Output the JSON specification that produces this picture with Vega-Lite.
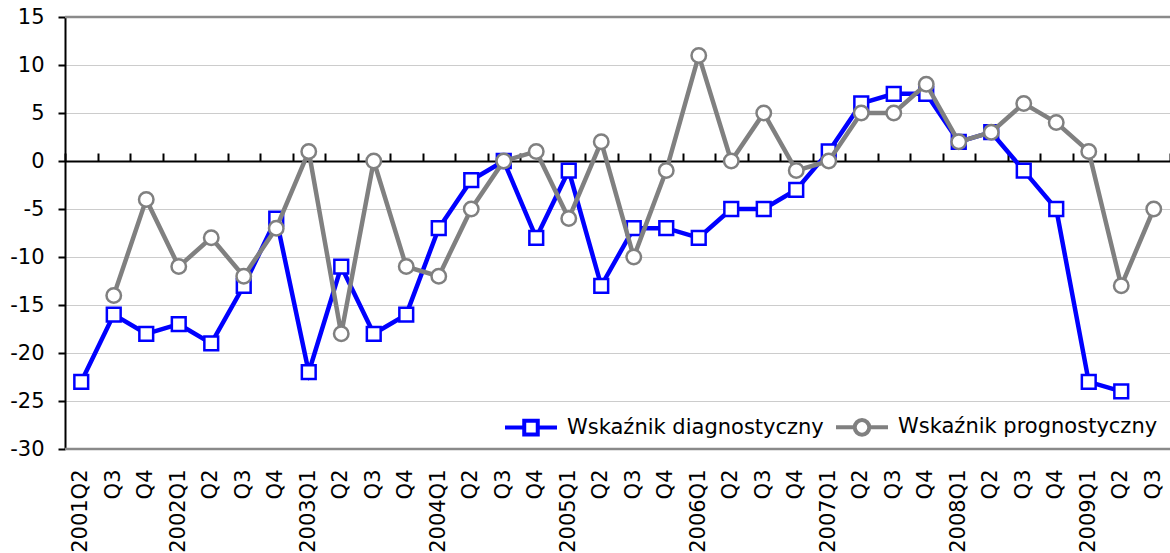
{
  "$schema": "https://vega.github.io/schema/vega-lite/v6.json",
  "width": 1105,
  "height": 432,
  "autosize": {"type": "none"},
  "padding": {"left": 65, "top": 17, "right": 0, "bottom": 104},
  "background": "white",
  "config": {
    "view": {"stroke": null},
    "font": "DejaVu Sans"
  },
  "data": {
    "values": [
      {"q": "2001Q2", "Wskaźnik diagnostyczny": -23, "Wskaźnik prognostyczny": null},
      {"q": "2001Q3", "Wskaźnik diagnostyczny": -16, "Wskaźnik prognostyczny": -14},
      {"q": "2001Q4", "Wskaźnik diagnostyczny": -18, "Wskaźnik prognostyczny": -4},
      {"q": "2002Q1", "Wskaźnik diagnostyczny": -17, "Wskaźnik prognostyczny": -11},
      {"q": "2002Q2", "Wskaźnik diagnostyczny": -19, "Wskaźnik prognostyczny": -8},
      {"q": "2002Q3", "Wskaźnik diagnostyczny": -13, "Wskaźnik prognostyczny": -12},
      {"q": "2002Q4", "Wskaźnik diagnostyczny": -6, "Wskaźnik prognostyczny": -7},
      {"q": "2003Q1", "Wskaźnik diagnostyczny": -22, "Wskaźnik prognostyczny": 1},
      {"q": "2003Q2", "Wskaźnik diagnostyczny": -11, "Wskaźnik prognostyczny": -18},
      {"q": "2003Q3", "Wskaźnik diagnostyczny": -18, "Wskaźnik prognostyczny": 0},
      {"q": "2003Q4", "Wskaźnik diagnostyczny": -16, "Wskaźnik prognostyczny": -11},
      {"q": "2004Q1", "Wskaźnik diagnostyczny": -7, "Wskaźnik prognostyczny": -12},
      {"q": "2004Q2", "Wskaźnik diagnostyczny": -2, "Wskaźnik prognostyczny": -5},
      {"q": "2004Q3", "Wskaźnik diagnostyczny": 0, "Wskaźnik prognostyczny": 0},
      {"q": "2004Q4", "Wskaźnik diagnostyczny": -8, "Wskaźnik prognostyczny": 1},
      {"q": "2005Q1", "Wskaźnik diagnostyczny": -1, "Wskaźnik prognostyczny": -6},
      {"q": "2005Q2", "Wskaźnik diagnostyczny": -13, "Wskaźnik prognostyczny": 2},
      {"q": "2005Q3", "Wskaźnik diagnostyczny": -7, "Wskaźnik prognostyczny": -10},
      {"q": "2005Q4", "Wskaźnik diagnostyczny": -7, "Wskaźnik prognostyczny": -1},
      {"q": "2006Q1", "Wskaźnik diagnostyczny": -8, "Wskaźnik prognostyczny": 11},
      {"q": "2006Q2", "Wskaźnik diagnostyczny": -5, "Wskaźnik prognostyczny": 0},
      {"q": "2006Q3", "Wskaźnik diagnostyczny": -5, "Wskaźnik prognostyczny": 5},
      {"q": "2006Q4", "Wskaźnik diagnostyczny": -3, "Wskaźnik prognostyczny": -1},
      {"q": "2007Q1", "Wskaźnik diagnostyczny": 1, "Wskaźnik prognostyczny": 0},
      {"q": "2007Q2", "Wskaźnik diagnostyczny": 6, "Wskaźnik prognostyczny": 5},
      {"q": "2007Q3", "Wskaźnik diagnostyczny": 7, "Wskaźnik prognostyczny": 5},
      {"q": "2007Q4", "Wskaźnik diagnostyczny": 7, "Wskaźnik prognostyczny": 8},
      {"q": "2008Q1", "Wskaźnik diagnostyczny": 2, "Wskaźnik prognostyczny": 2},
      {"q": "2008Q2", "Wskaźnik diagnostyczny": 3, "Wskaźnik prognostyczny": 3},
      {"q": "2008Q3", "Wskaźnik diagnostyczny": -1, "Wskaźnik prognostyczny": 6},
      {"q": "2008Q4", "Wskaźnik diagnostyczny": -5, "Wskaźnik prognostyczny": 4},
      {"q": "2009Q1", "Wskaźnik diagnostyczny": -23, "Wskaźnik prognostyczny": 1},
      {"q": "2009Q2", "Wskaźnik diagnostyczny": -24, "Wskaźnik prognostyczny": -13},
      {"q": "2009Q3", "Wskaźnik diagnostyczny": null, "Wskaźnik prognostyczny": -5}
    ]
  },
  "transform": [
    {"fold": ["Wskaźnik diagnostyczny", "Wskaźnik prognostyczny"], "as": ["s", "v"]},
    {"filter": "isValid(datum.v)"}
  ],
  "layer": [
    {
      "data": {"values": [{}]},
      "transform": [],
      "mark": {"type": "rule", "color": "#8a8a8a", "strokeWidth": 2.5},
      "encoding": {"y": {"datum": 15, "type": "quantitative"}}
    },
    {
      "data": {"values": [{}]},
      "transform": [],
      "mark": {"type": "rule", "color": "#8a8a8a", "strokeWidth": 2.5},
      "encoding": {"y": {"datum": -30, "type": "quantitative"}}
    },
    {
      "transform": [{"filter": "datum.s === 'Wskaźnik diagnostyczny'"}],
      "mark": {"type": "line", "strokeWidth": 4.5},
      "encoding": {
        "x": {
          "field": "q", "type": "ordinal", "sort": null,
          "scale": {"type": "band", "paddingInner": 0, "paddingOuter": 0},
          "axis": {
            "orient": "bottom", "title": null, "labelAngle": -90, "domain": false, "ticks": false,
            "grid": false, "labelFontSize": 21, "labelColor": "black", "labelPadding": 20,
            "labelFont": "DejaVu Sans",
            "labelExpr": "(indexof(datum.value, 'Q1') > 0 || datum.value === '2001Q2') ? datum.value : substring(datum.value, 4)"
          }
        },
        "y": {
          "field": "v", "type": "quantitative",
          "scale": {"domain": [-30, 15], "nice": false, "zero": false},
          "axis": {
            "title": null, "values": [-30, -25, -20, -15, -10, -5, 0, 5, 10, 15],
            "labelExpr": "'' + datum.value",
            "labelFontSize": 21, "labelColor": "black", "labelFont": "DejaVu Sans", "labelPadding": 14,
            "domainColor": "black", "domainWidth": 2, "tickColor": "black", "tickWidth": 2, "tickSize": 7,
            "grid": true, "gridColor": "#cccccc", "gridWidth": 1
          }
        },
        "color": {
          "field": "s", "type": "nominal",
          "scale": {"domain": ["Wskaźnik diagnostyczny", "Wskaźnik prognostyczny"], "range": ["#0000ff", "#808080"]},
          "legend": {
            "title": null, "orient": "none", "direction": "horizontal", "columns": 2,
            "legendX": 438, "legendY": 382,
            "labelFontSize": 21, "labelFont": "DejaVu Sans", "labelColor": "black", "labelLimit": 400,
            "symbolSize": 2704, "symbolStrokeWidth": 4, "symbolFillColor": "white",
            "labelOffset": 8, "columnPadding": 4,
            "encode": {
              "symbols": {
                "update": {
                  "shape": {"signal": "datum.value === 'Wskaźnik diagnostyczny' ? 'M-1,0H-0.26M0.26,0H1M-0.26,-0.26H0.26V0.26H-0.26Z' : 'M-1,0H-0.28M0.28,0H1M0.28,0A0.28,0.28 0 1 1 -0.28,0A0.28,0.28 0 1 1 0.28,0Z'"},
                  "fill": {"value": "white"},
                  "strokeWidth": {"value": 4}
                }
              }
            }
          }
        }
      }
    },
    {
      "transform": [{"filter": "datum.s === 'Wskaźnik diagnostyczny'"}],
      "mark": {"type": "point", "shape": "square", "filled": false, "fill": "white", "fillOpacity": 1, "opacity": 1, "size": 190, "strokeWidth": 2.5},
      "encoding": {
        "x": {"field": "q", "type": "ordinal", "sort": null, "scale": {"type": "band", "paddingInner": 0, "paddingOuter": 0}, "axis": null},
        "y": {"field": "v", "type": "quantitative"},
        "color": {"field": "s", "type": "nominal"}
      }
    },
    {
      "transform": [{"filter": "datum.s === 'Wskaźnik prognostyczny'"}],
      "mark": {"type": "line", "strokeWidth": 4.5},
      "encoding": {
        "x": {"field": "q", "type": "ordinal", "sort": null, "scale": {"type": "band", "paddingInner": 0, "paddingOuter": 0}, "axis": null},
        "y": {"field": "v", "type": "quantitative"},
        "color": {"field": "s", "type": "nominal"}
      }
    },
    {
      "transform": [{"filter": "datum.s === 'Wskaźnik prognostyczny'"}],
      "mark": {"type": "point", "shape": "circle", "filled": false, "fill": "white", "fillOpacity": 1, "opacity": 1, "size": 210, "strokeWidth": 2.5},
      "encoding": {
        "x": {
          "field": "q", "type": "ordinal", "sort": null,
          "scale": {"type": "band", "paddingInner": 0, "paddingOuter": 0},
          "axis": {
            "orient": "top", "offset": -144, "title": null, "labels": false, "grid": false,
            "domain": true, "domainColor": "black", "domainWidth": 2,
            "ticks": true, "tickBand": "extent", "tickSize": 8, "tickColor": "black", "tickWidth": 2
          }
        },
        "y": {"field": "v", "type": "quantitative"},
        "color": {"field": "s", "type": "nominal"}
      }
    }
  ],
  "resolve": {"axis": {"x": "independent"}}
}
